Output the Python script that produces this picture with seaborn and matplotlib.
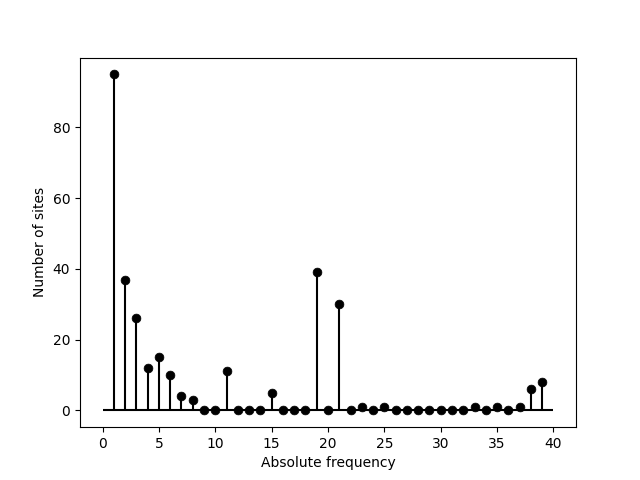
import matplotlib
matplotlib.use("Agg")
import matplotlib.pyplot as plt
import seaborn as sns

freq = list(range(1, 40))
sites = [95, 37, 26, 12, 15, 10, 4, 3, 0, 0,
         11, 0, 0, 0, 5, 0, 0, 0, 39, 0,
         30, 0, 1, 0, 1, 0, 0, 0, 0, 0,
         0, 0, 1, 0, 1, 0, 1, 6, 8]

fig, ax = plt.subplots(figsize=(6.4, 4.8), dpi=100)
ax.vlines(freq, 0, sites, colors="black", linewidth=1.5)
ax.hlines(0, 0, 40, colors="black", linewidth=1.5)
sns.scatterplot(x=freq, y=sites, ax=ax, color="black", s=40, edgecolor="black", zorder=3)
ax.set_xlabel("Absolute frequency")
ax.set_ylabel("Number of sites")
fig.savefig("out.png", dpi=100)
